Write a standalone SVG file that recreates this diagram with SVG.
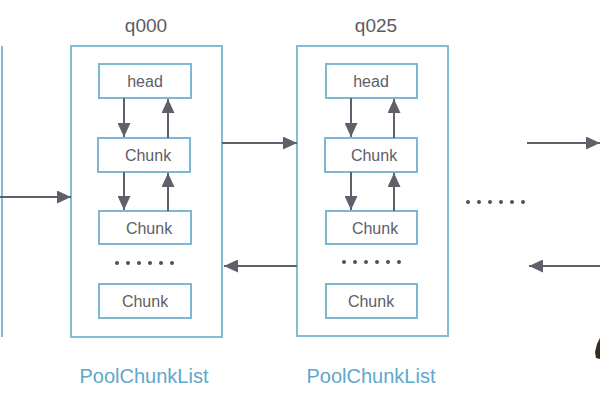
<svg xmlns="http://www.w3.org/2000/svg" width="600" height="400" viewBox="0 0 600 400">
<defs>
<style>
.box{fill:#fff;stroke:#84bcd6;stroke-width:2}
.inner{fill:#fff;stroke:#7fb6d2;stroke-width:2}
.lbl{font-family:"Liberation Sans",Arial,sans-serif;font-size:16px;fill:#5e5e66;text-anchor:middle}
.title{font-family:"Liberation Sans",Arial,sans-serif;font-size:19px;fill:#5b5b63;text-anchor:middle}
.cap{font-family:"Liberation Sans",Arial,sans-serif;font-size:20px;fill:#5ea8c9;text-anchor:middle}
.arr{stroke:#5f606a;stroke-width:2;fill:none}
.dot{fill:#4f505a}
</style>
<marker id="ah" viewBox="0 0 14 13" refX="14" refY="6.5" markerWidth="14" markerHeight="13" markerUnits="userSpaceOnUse" orient="auto">
<path d="M0,0 L14,6.5 L0,13 Z" fill="#5f606a"/>
</marker>
</defs>
<rect width="600" height="400" fill="#fff"/>
<g id="left-list"><line x1="2" y1="46" x2="2" y2="337" stroke="#84bcd6" stroke-width="2"/></g>
<g id="q000">
<text class="title" x="146" y="32">q000</text>
<rect class="box" x="71" y="46" width="151" height="291"/>
<g id="q000-head"><rect class="inner" x="99" y="64" width="92" height="34"/><text class="lbl" x="145" y="87">head</text></g>
<g id="q000-chunk1"><rect class="inner" x="98" y="138" width="92" height="34"/><text class="lbl" x="148" y="161">Chunk</text></g>
<g id="q000-chunk2"><rect class="inner" x="99" y="211" width="92" height="33"/><text class="lbl" x="149" y="233.5">Chunk</text></g>
<g id="q000-dots"><circle class="dot" cx="117" cy="263" r="2"/><circle class="dot" cx="128" cy="263" r="2"/><circle class="dot" cx="139" cy="263" r="2"/><circle class="dot" cx="150" cy="263" r="2"/><circle class="dot" cx="161" cy="263" r="2"/><circle class="dot" cx="172" cy="263" r="2"/></g>
<g id="q000-chunk3"><rect class="inner" x="99" y="284" width="92" height="34"/><text class="lbl" x="145" y="307">Chunk</text></g>
<text class="cap" x="144" y="383">PoolChunkList</text>
</g>
<g id="q025">
<text class="title" x="376" y="32">q025</text>
<rect class="box" x="297" y="46" width="151" height="290"/>
<g id="q025-head"><rect class="inner" x="326" y="64" width="91" height="34"/><text class="lbl" x="371" y="87">head</text></g>
<g id="q025-chunk1"><rect class="inner" x="325" y="138" width="92" height="34"/><text class="lbl" x="374" y="161">Chunk</text></g>
<g id="q025-chunk2"><rect class="inner" x="326" y="211" width="91" height="33"/><text class="lbl" x="375" y="233.5">Chunk</text></g>
<g id="q025-dots"><circle class="dot" cx="344" cy="262" r="2"/><circle class="dot" cx="355" cy="262" r="2"/><circle class="dot" cx="366" cy="262" r="2"/><circle class="dot" cx="377" cy="262" r="2"/><circle class="dot" cx="388" cy="262" r="2"/><circle class="dot" cx="399" cy="262" r="2"/></g>
<g id="q025-chunk3"><rect class="inner" x="326" y="284" width="91" height="34"/><text class="lbl" x="371" y="307">Chunk</text></g>
<text class="cap" x="371" y="383">PoolChunkList</text>
</g>
<g id="between-dots"><circle class="dot" cx="468" cy="202" r="2"/><circle class="dot" cx="479" cy="202" r="2"/><circle class="dot" cx="490" cy="202" r="2"/><circle class="dot" cx="501" cy="202" r="2"/><circle class="dot" cx="512" cy="202" r="2"/><circle class="dot" cx="523" cy="202" r="2"/></g>
<g id="connectors">
<line class="arr" x1="0" y1="197" x2="71" y2="197" marker-end="url(#ah)"/>
<line class="arr" x1="222" y1="143" x2="297" y2="143" marker-end="url(#ah)"/>
<line class="arr" x1="297" y1="266" x2="224" y2="266" marker-end="url(#ah)"/>
<line class="arr" x1="527" y1="143" x2="600" y2="143" marker-end="url(#ah)"/>
<line class="arr" x1="600" y1="266" x2="529" y2="266" marker-end="url(#ah)"/>
<line class="arr" x1="124" y1="98" x2="124" y2="137" marker-end="url(#ah)"/>
<line class="arr" x1="168" y1="138" x2="168" y2="99" marker-end="url(#ah)"/>
<line class="arr" x1="124" y1="172" x2="124" y2="210" marker-end="url(#ah)"/>
<line class="arr" x1="168" y1="211" x2="168" y2="173" marker-end="url(#ah)"/>
<line class="arr" x1="351" y1="98" x2="351" y2="137" marker-end="url(#ah)"/>
<line class="arr" x1="394" y1="138" x2="394" y2="99" marker-end="url(#ah)"/>
<line class="arr" x1="351" y1="172" x2="351" y2="210" marker-end="url(#ah)"/>
<line class="arr" x1="394" y1="211" x2="394" y2="173" marker-end="url(#ah)"/>
</g>
<path d="M600,338 L597,344 L595,352 L596,358 L600,359 Z" fill="#3a2a1c"/>
</svg>
